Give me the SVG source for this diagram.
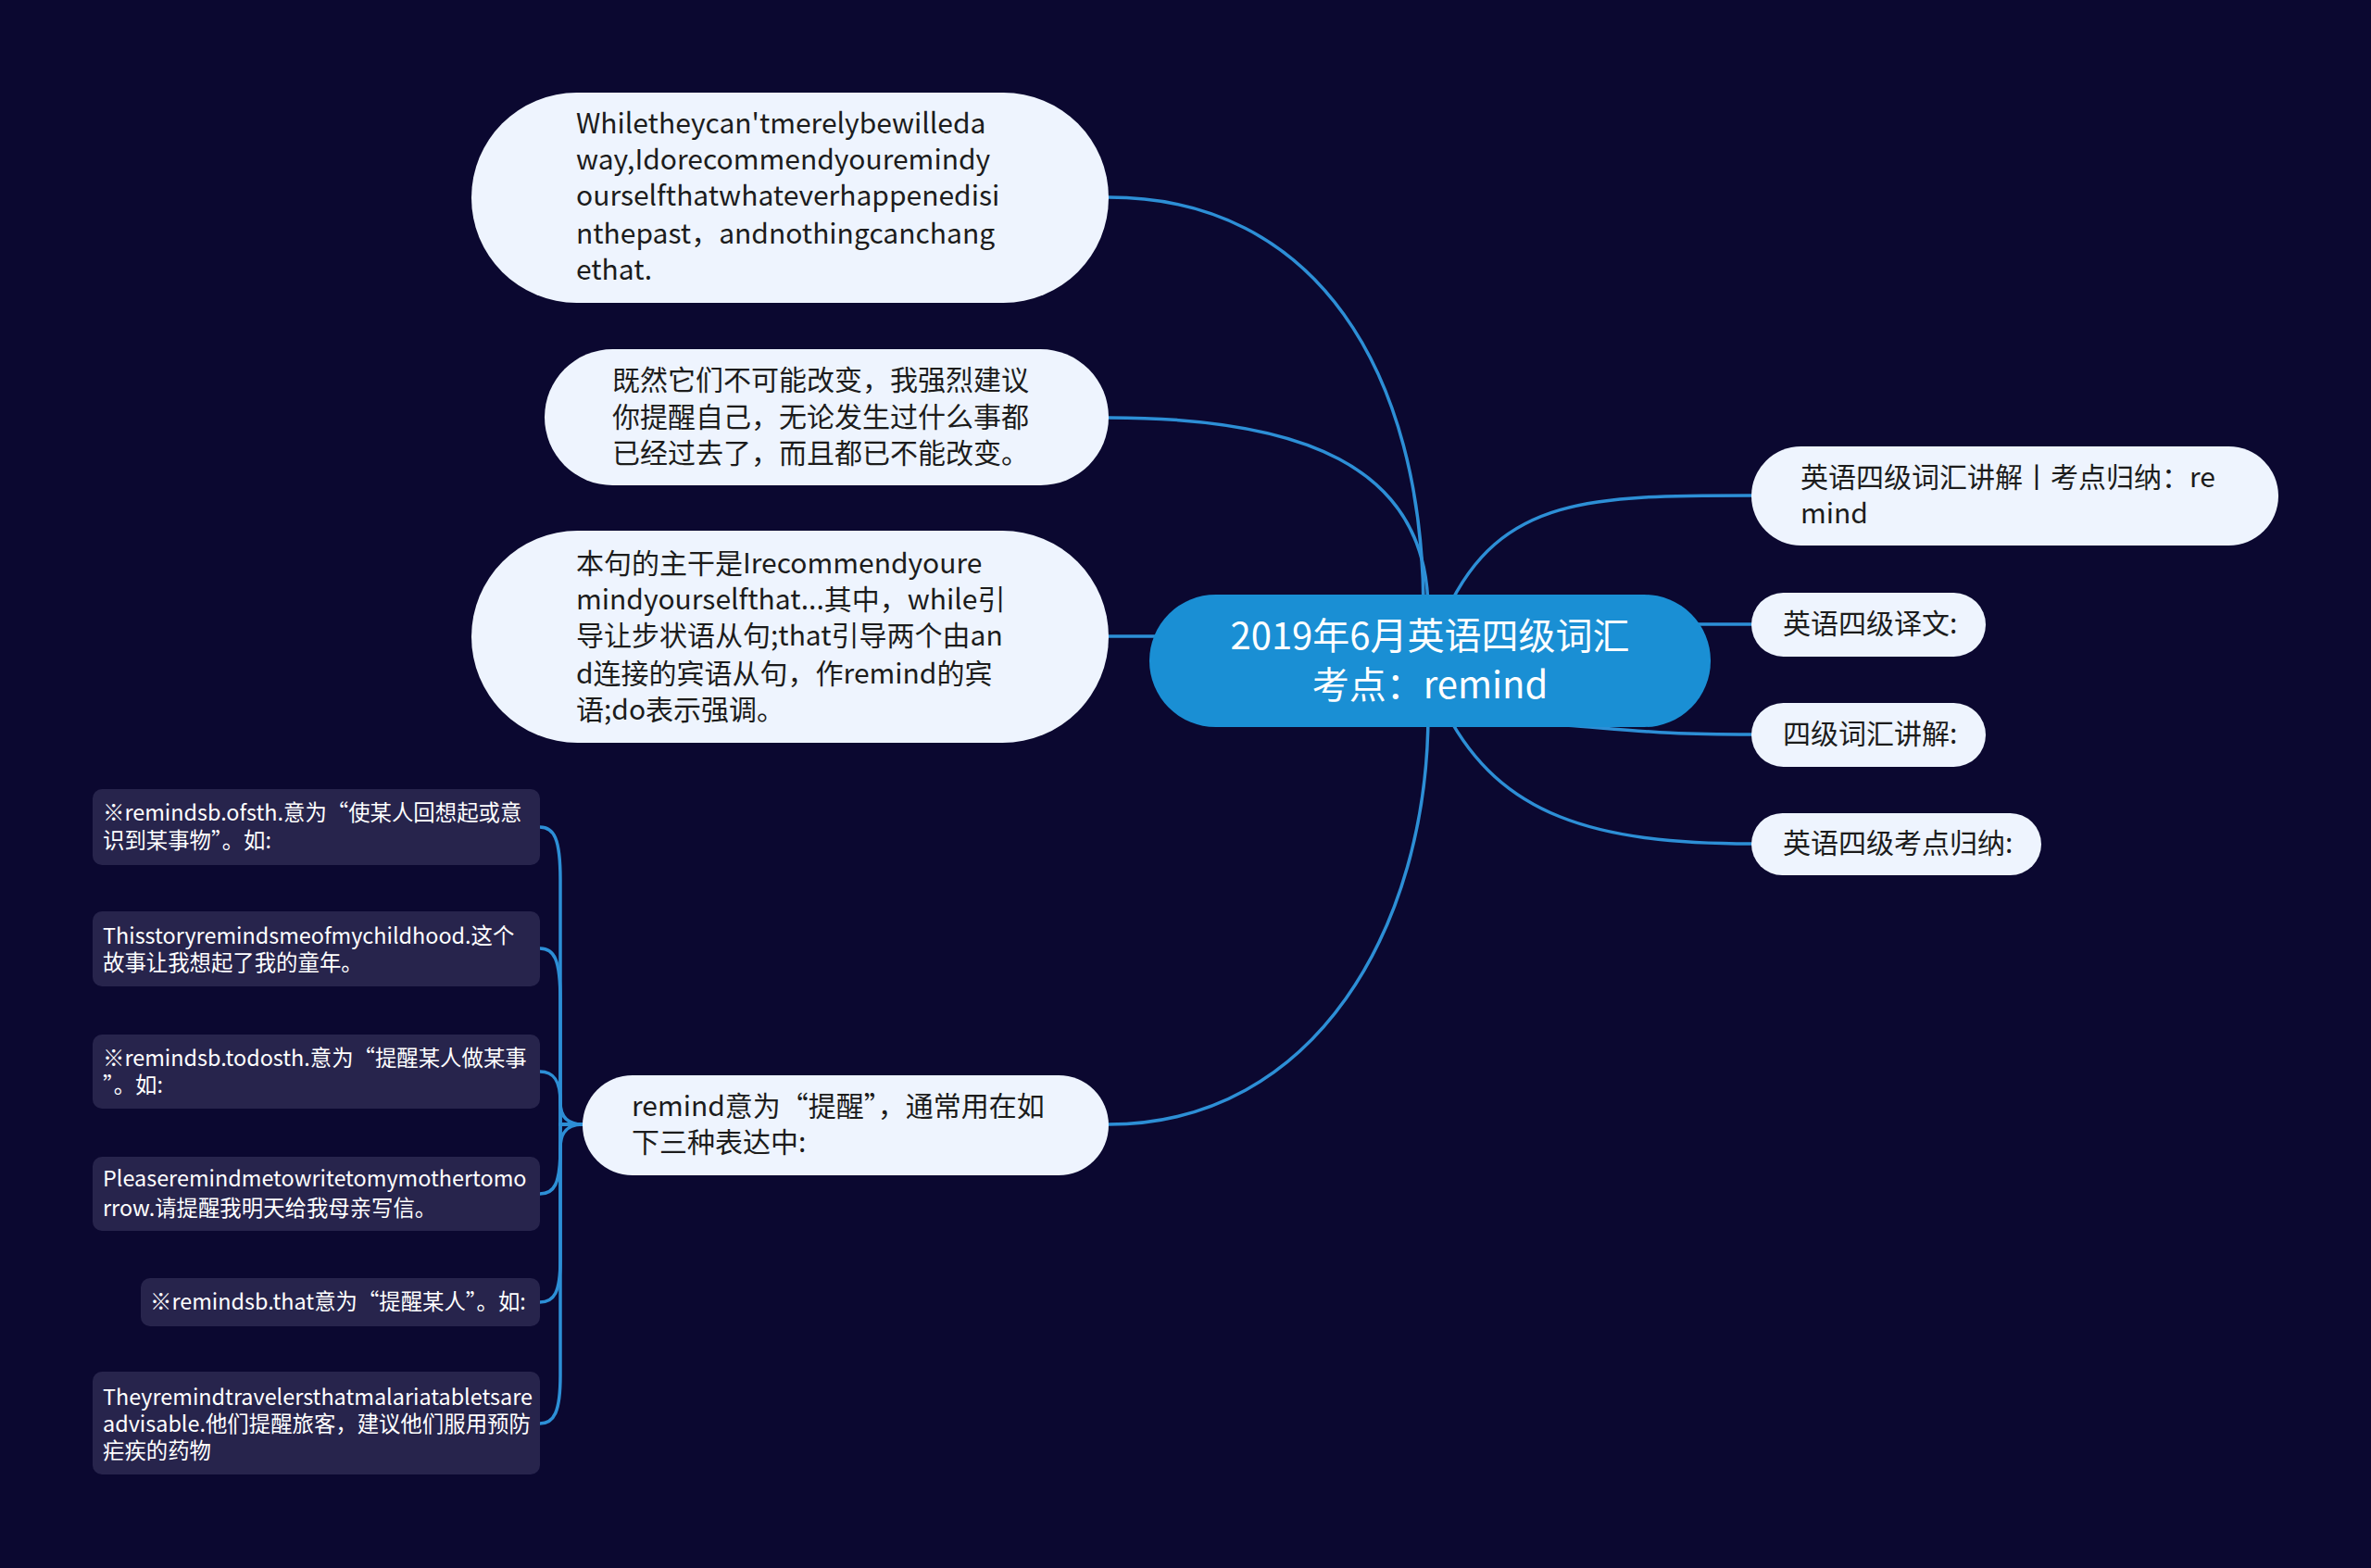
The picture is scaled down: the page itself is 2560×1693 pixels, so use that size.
<svg xmlns="http://www.w3.org/2000/svg" width="2560" height="1693" viewBox="0 0 2560 1693">
<style>
.bg{fill:#0b0830}
.lt{fill:#eef4fe}
.dk{fill:#27244c}
.ctr{fill:#1a8fd4}
.t{font-family:"Noto Sans CJK SC","Noto Sans",sans-serif;font-size:30px;fill:#1c1c1c}
.s{font-family:"Noto Sans CJK SC","Noto Sans",sans-serif;font-size:23.4px;fill:#ffffff}
.c{font-family:"Noto Sans CJK SC","Noto Sans",sans-serif;font-size:40px;fill:#ffffff;text-anchor:middle}
.ln{fill:none;stroke:#2d8fd6;stroke-width:3.5;stroke-linecap:round}
</style>
<rect class="bg" x="0" y="0" width="2560" height="1693"/>
<g id="connectors">
<path class="ln" d="M1197,213 C1420,213 1537,400 1537,660"/>
<path class="ln" d="M1197,451 C1400,451 1542,500 1542,660"/>
<path class="ln" d="M1197,687 L1260,687"/>
<path class="ln" d="M1197,1214 C1420,1214 1542,1000 1542,770"/>
<path class="ln" d="M1562,660 C1620,535 1720,535 1891,535"/>
<path class="ln" d="M1800,674 L1891,674"/>
<path class="ln" d="M1690,783 C1780,790 1800,793 1891,793"/>
<path class="ln" d="M1562,770 C1620,880 1720,911 1891,911"/>
<path class="ln" d="M629,1214 H605 V950 C605,905 598,893 583,893"/>
<path class="ln" d="M629,1214 H605 V1080 C605,1035 598,1024 583,1024"/>
<path class="ln" d="M629,1214 C608,1214 605,1200 605,1190 C605,1167 598,1157 583,1157"/>
<path class="ln" d="M629,1214 C608,1214 605,1228 605,1240 C605,1279 598,1289 583,1289"/>
<path class="ln" d="M629,1214 H605 V1360 C605,1396 598,1406 583,1406"/>
<path class="ln" d="M629,1214 H605 V1485 C605,1525 598,1537 583,1537"/>
</g>
<g id="center">
<rect class="ctr" x="1241" y="642" width="606" height="143" rx="71.5"/>
<text class="c" x="1544" y="701">2019年6月英语四级词汇</text>
<text class="c" x="1544" y="754">考点：remind</text>
</g>
<g id="nodeA">
<rect class="lt" x="509" y="100" width="688" height="227" rx="113.5"/>
<text class="t" x="622" y="144">Whiletheycan'tmerelybewilleda</text>
<text class="t" x="622" y="183">way,Idorecommendyouremindy</text>
<text class="t" x="622" y="222">ourselfthatwhateverhappenedisi</text>
<text class="t" x="622" y="263">nthepast，andnothingcanchang</text>
<text class="t" x="622" y="302">ethat.</text>
</g>
<g id="nodeB">
<rect class="lt" x="588" y="377" width="609" height="147" rx="73.5"/>
<text class="t" x="661" y="421">既然它们不可能改变，我强烈建议</text>
<text class="t" x="661" y="461">你提醒自己，无论发生过什么事都</text>
<text class="t" x="661" y="500">已经过去了，而且都已不能改变。</text>
</g>
<g id="nodeC">
<rect class="lt" x="509" y="573" width="688" height="229" rx="114.5"/>
<text class="t" x="622" y="619">本句的主干是Irecommendyoure</text>
<text class="t" x="622" y="658">mindyourselfthat...其中，while引</text>
<text class="t" x="622" y="697">导让步状语从句;that引导两个由an</text>
<text class="t" x="622" y="738">d连接的宾语从句，作remind的宾</text>
<text class="t" x="622" y="777">语;do表示强调。</text>
</g>
<g id="nodeD">
<rect class="lt" x="629" y="1161" width="568" height="108" rx="54"/>
<text class="t" x="682" y="1205">remind意为“提醒”，通常用在如</text>
<text class="t" x="682" y="1244">下三种表达中:</text>
</g>
<g id="nodeR1">
<rect class="lt" x="1891" y="482" width="569" height="107" rx="53.5"/>
<text class="t" x="1944" y="526">英语四级词汇讲解丨考点归纳：re</text>
<text class="t" x="1944" y="565">mind</text>
</g>
<g id="nodeR2">
<rect class="lt" x="1891" y="640" width="253" height="69" rx="34.5"/>
<text class="t" x="1925" y="684">英语四级译文:</text>
</g>
<g id="nodeR3">
<rect class="lt" x="1891" y="759" width="253" height="69" rx="34.5"/>
<text class="t" x="1925" y="803">四级词汇讲解:</text>
</g>
<g id="nodeR4">
<rect class="lt" x="1891" y="878" width="313" height="67" rx="33.5"/>
<text class="t" x="1925" y="921">英语四级考点归纳:</text>
</g>
<g id="nodeL1">
<rect class="dk" x="100" y="852" width="483" height="82" rx="10"/>
<text class="s" x="111" y="886">※remindsb.ofsth.意为“使某人回想起或意</text>
<text class="s" x="111" y="916">识到某事物”。如:</text>
</g>
<g id="nodeL2">
<rect class="dk" x="100" y="984" width="483" height="81" rx="10"/>
<text class="s" x="111" y="1019">Thisstoryremindsmeofmychildhood.这个</text>
<text class="s" x="111" y="1048">故事让我想起了我的童年。</text>
</g>
<g id="nodeL3">
<rect class="dk" x="100" y="1117" width="483" height="80" rx="10"/>
<text class="s" x="111" y="1151">※remindsb.todosth.意为“提醒某人做某事</text>
<text class="s" x="111" y="1180">”。如:</text>
</g>
<g id="nodeL4">
<rect class="dk" x="100" y="1249" width="483" height="80" rx="10"/>
<text class="s" x="111" y="1281">Pleaseremindmetowritetomymothertomo</text>
<text class="s" x="111" y="1313">rrow.请提醒我明天给我母亲写信。</text>
</g>
<g id="nodeL5">
<rect class="dk" x="152" y="1380" width="431" height="52" rx="10"/>
<text class="s" x="162" y="1414">※remindsb.that意为“提醒某人”。如:</text>
</g>
<g id="nodeL6">
<rect class="dk" x="100" y="1481" width="483" height="111" rx="10"/>
<text class="s" x="111" y="1517">Theyremindtravelersthatmalariatabletsare</text>
<text class="s" x="111" y="1546">advisable.他们提醒旅客，建议他们服用预防</text>
<text class="s" x="111" y="1575">疟疾的药物</text>
</g>
</svg>
